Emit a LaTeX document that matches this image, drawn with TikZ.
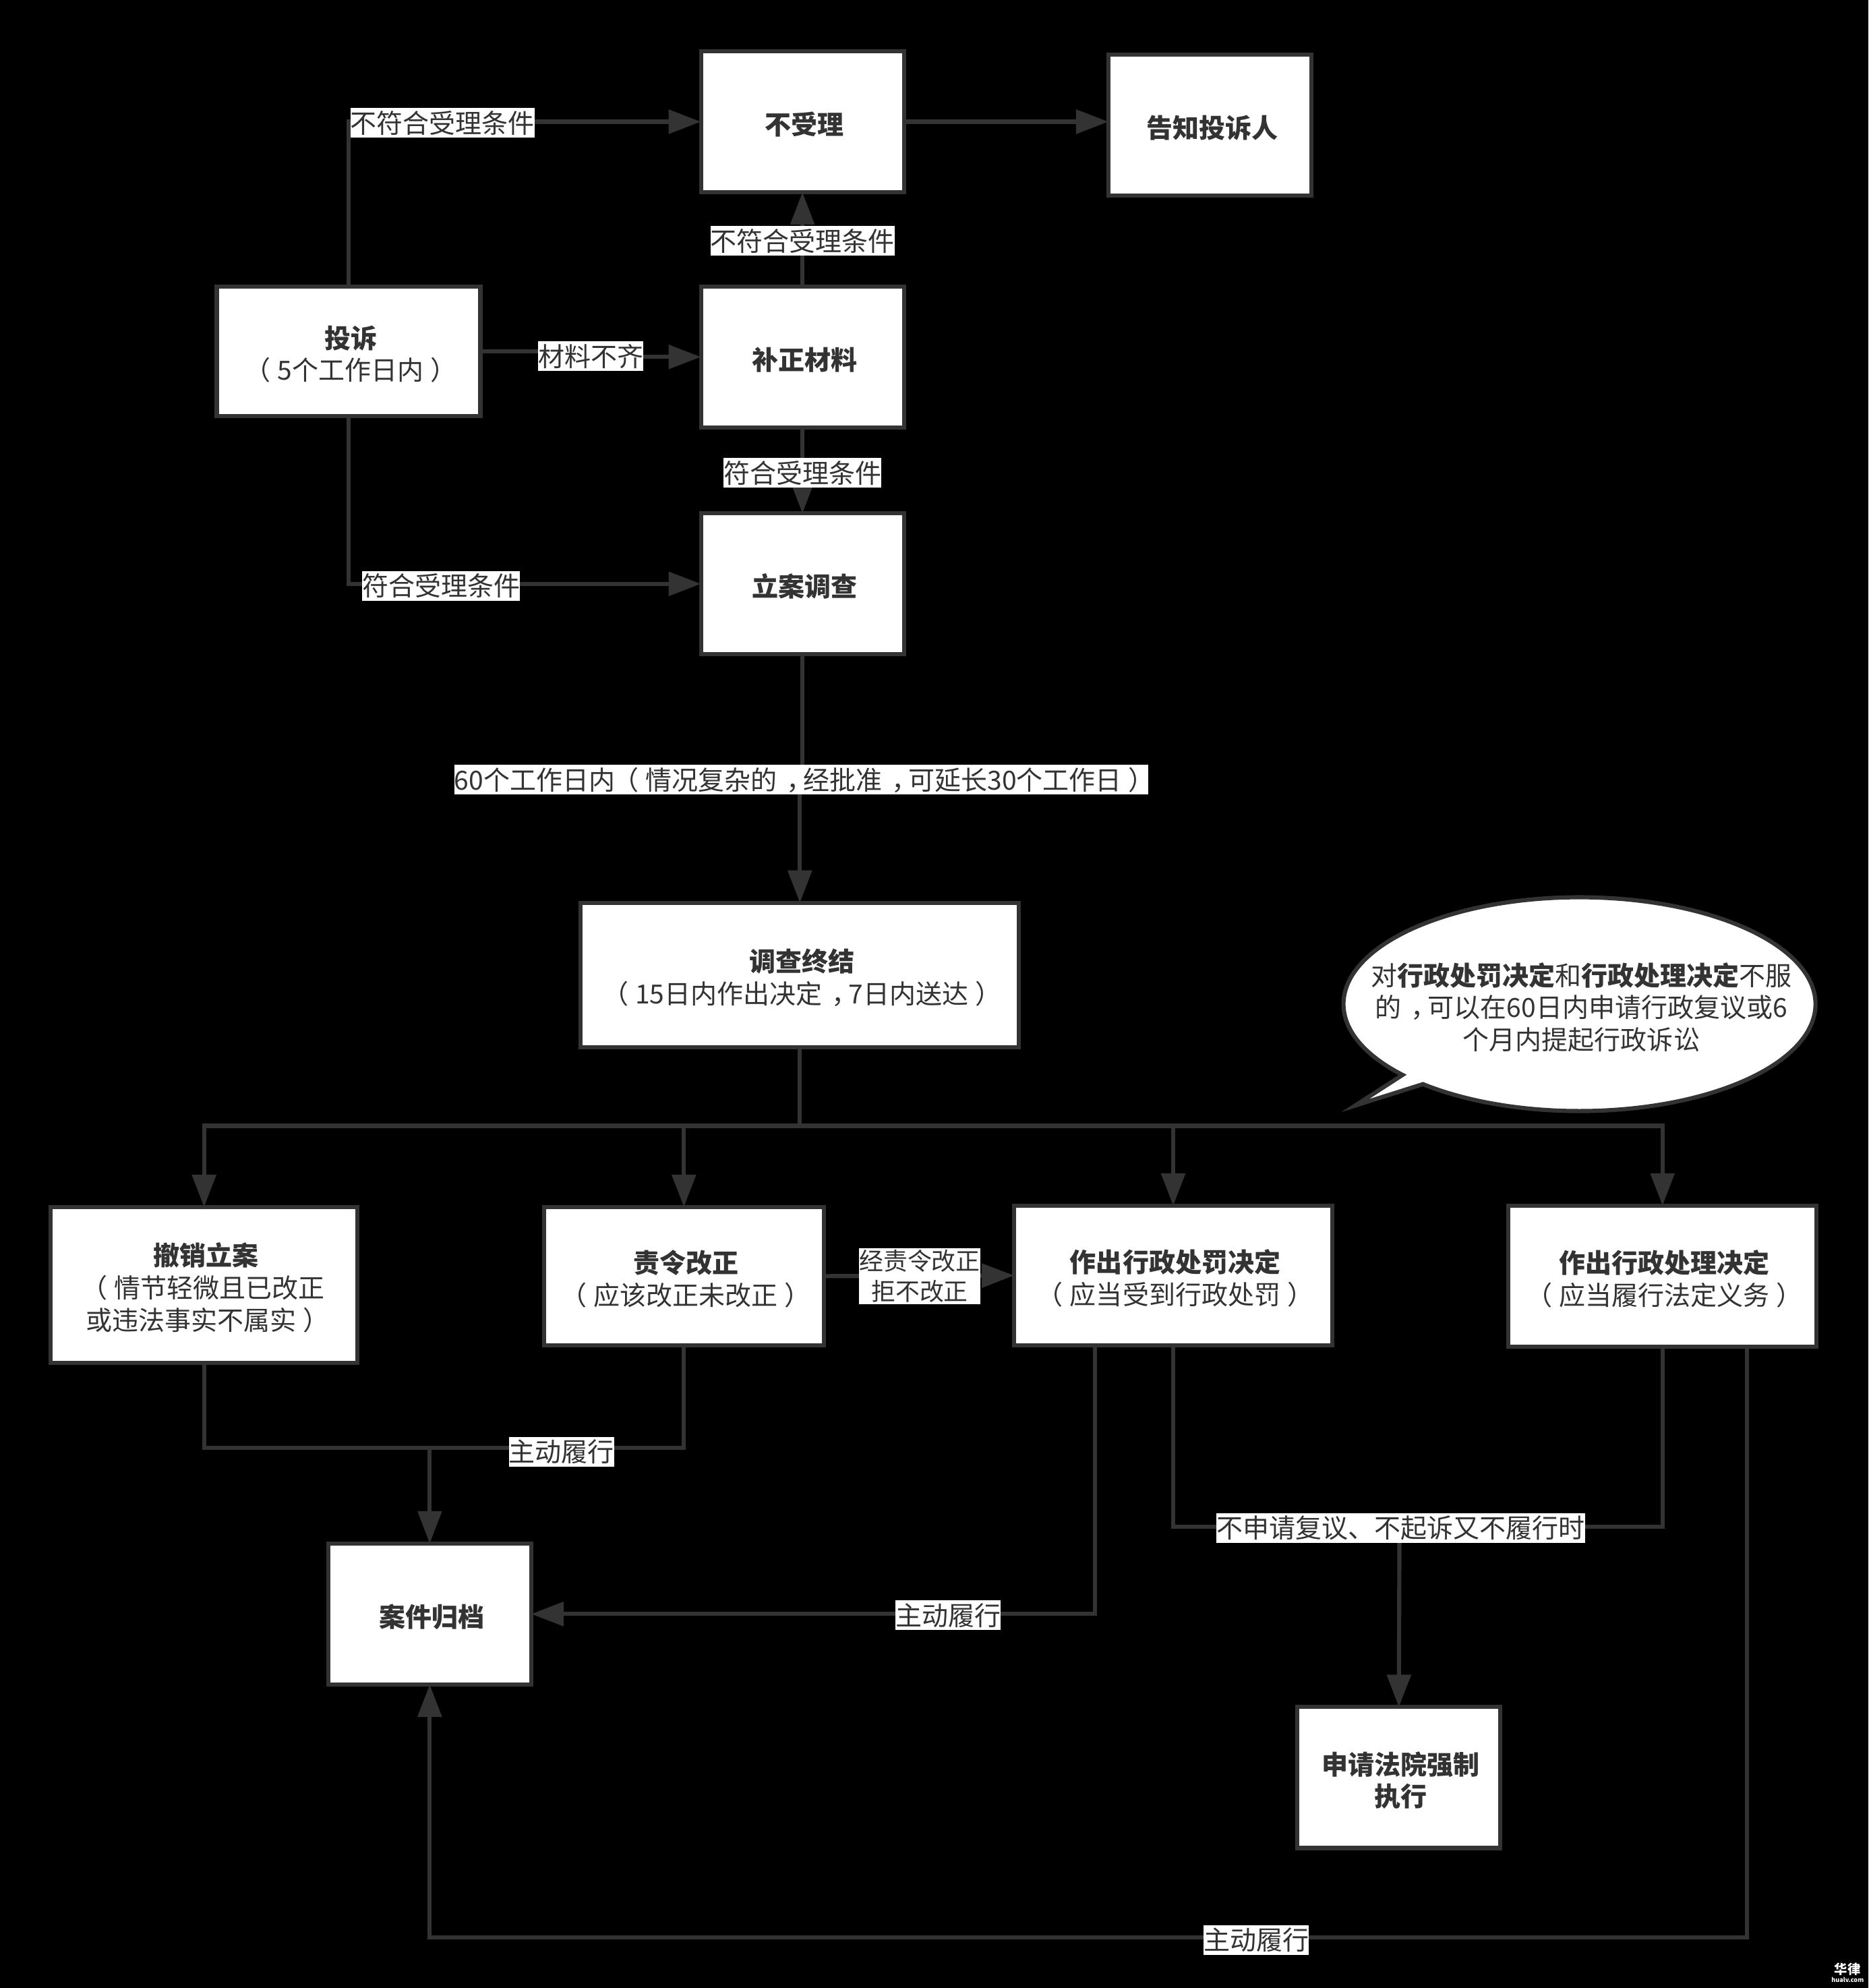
\documentclass[tikz,border=0pt]{standalone}
\usepackage{fontspec}
\setmainfont{Noto Sans CJK SC}
\usetikzlibrary{arrows.meta,shapes.callouts}
\definecolor{ink}{HTML}{333333}
\newcommand{\hd}[1]{\rule{0pt}{.42cm}\kern.06cm\textbf{#1}}
\newcommand{\lp}{\kern-.04cm（\kern.1cm}
\newcommand{\rp}{\kern.1cm）\kern-.1cm}
\newcommand{\cm}{\kern.14cm，\kern-.14cm}
\tikzset{
	base/.style={font=\fontsize{11.1}{13.6}\selectfont,text=ink,align=center},
	box/.style={base,draw=ink,fill=white,line width=1.75pt,inner sep=0pt},
	smallbox/.style={box,minimum width=3.01cm,minimum height=2.09cm},
	lab/.style={base,fill=white,inner xsep=0pt,inner ysep=.02cm,text height=.35cm,text depth=.05cm},
	labtwo/.style={base,fill=white,inner xsep=0pt,inner ysep=.02cm,font=\fontsize{10.2}{12.9}\selectfont},
	line/.style={draw=ink,line width=1.75pt},
	arr/.style={line,shorten >=-.03cm,-{Triangle[length=.48cm,width=.35cm]}}
}
\begin{document}
\begin{tikzpicture}[x=.0188cm,y=-.0188cm]
\path[use as bounding box,fill=black] (0,0) rectangle (1474,1568);

\node[smallbox] (buli) at (633,96) {\hd{不受理}};
\node[smallbox] (gaozhi) at (954.5,98.5) {\hd{告知投诉人}};
\node[box,minimum width=3.91cm,minimum height=1.92cm] (tousu) at (275,277) {\hd{投诉}\\\lp 5个工作日内\rp};
\node[smallbox] (buzheng) at (633,281.5) {\hd{补正材料}};
\node[smallbox] (lian) at (633,460.5) {\hd{立案调查}};
\node[box,minimum width=6.5cm,minimum height=2.14cm] (diaocha) at (631,769) {\hd{调查终结}\\\lp 15日内作出决定\cm 7日内送达\rp};
\node[box,minimum width=4.55cm,minimum height=2.31cm] (chexiao) at (161,1013.5) {\hd{撤销立案}\\\lp 情节轻微且已改正\\或违法事实不属实\rp};
\node[box,minimum width=4.15cm,minimum height=2.05cm] (zeling) at (539.5,1006.5) {\hd{责令改正}\\\lp 应该改正未改正\rp};
\node[box,minimum width=4.72cm,minimum height=2.07cm] (chufa) at (925.5,1006) {\hd{作出行政处罚决定}\\\lp 应当受到行政处罚\rp};
\node[box,minimum width=4.57cm,minimum height=2.09cm] (chuli) at (1311.5,1006.5) {\hd{作出行政处理决定}\\\lp 应当履行法定义务\rp};
\node[smallbox] (guidang) at (339,1273) {\hd{案件归档}};
\node[smallbox] (fayuan) at (1103.5,1402) {\hd{申请法院强制}\\\kern.06cm\textbf{执行}};
\node[box,ellipse callout,minimum width=7cm,minimum height=3.17cm,callout absolute pointer={(1069,872)},callout pointer arc=7] (tip) at (1246,792) {};
\node[base,inner sep=0pt] (tiptext) at (1247.5,794.5) {对\textbf{行政处罚决定}和\textbf{行政处理决定}不服\\的\cm 可以在60日内申请行政复议或6\\个月内提起行政诉讼};

\coordinate (bus) at (631,888);
\coordinate (merge) at (339,1142);
\coordinate (force) at (1104,1204);
\draw[arr] (tousu.north) |- (buli.west);
\draw[arr] (buli.east) -- (buli.east -| gaozhi.west);
\draw[arr] (buzheng.north) -- (buli.south);
\draw[arr] (tousu.east) -- (466,277) -- (466,281.5) -- (buzheng.west);
\draw[arr] (buzheng.south) -- (lian.north);
\draw[arr] (tousu.south) |- (lian.west);
\draw[arr] (lian.south) -- (633,615) -- (631,615) -- (diaocha.north);
\draw[line] (diaocha.south) -- (bus);
\draw[arr] (bus) -| (chexiao.north);
\draw[arr] (bus) -| (zeling.north);
\draw[arr] (bus) -| (chufa.north);
\draw[arr] (bus) -| (chuli.north);
\draw[arr] (zeling.east) -- (chufa.west);
\draw[line] (chexiao.south) |- (merge);
\draw[line] (zeling.south) |- (merge);
\draw[arr] (merge) -- (guidang.north);
\draw[arr] (864,1061) |- (guidang.east);
\draw[line] (chufa.south) |- (force);
\draw[line] (chuli.south) |- (force);
\draw[arr] (force) -- (fayuan.north);
\draw[arr] (1378,1062) -- (1378,1528) -| (guidang.south);

\node[lab] (l1) at (349,97) {不符合受理条件};
\node[lab] (l2) at (633,190) {不符合受理条件};
\node[lab] (l3) at (466,281) {材料不齐};
\node[lab] (l4) at (633,373) {符合受理条件};
\node[lab] (l5) at (348,462) {符合受理条件};
\node[lab] (l6) at (632,615) {60个工作日内\lp 情况复杂的\cm 经批准\cm 可延长30个工作日\rp};
\node[labtwo] (l7) at (725.5,1006.5) {经责令改正\\拒不改正};
\node[lab] (l8) at (443,1145) {主动履行};
\node[lab] (l9) at (748,1274) {主动履行};
\node[lab] (l10) at (1105,1205) {不申请复议、不起诉又不履行时};
\node[lab] (l11) at (991,1530) {主动履行};

\node[text=white,font=\fontsize{5.5}{6}\selectfont\bfseries,inner sep=0pt] (mark) at (1457.5,1553) {华律};
\node[text=white,font=\fontsize{2.6}{3}\selectfont\bfseries,inner sep=0pt] (site) at (1457.5,1561.5) {hualv.com};
\end{tikzpicture}
\end{document}
